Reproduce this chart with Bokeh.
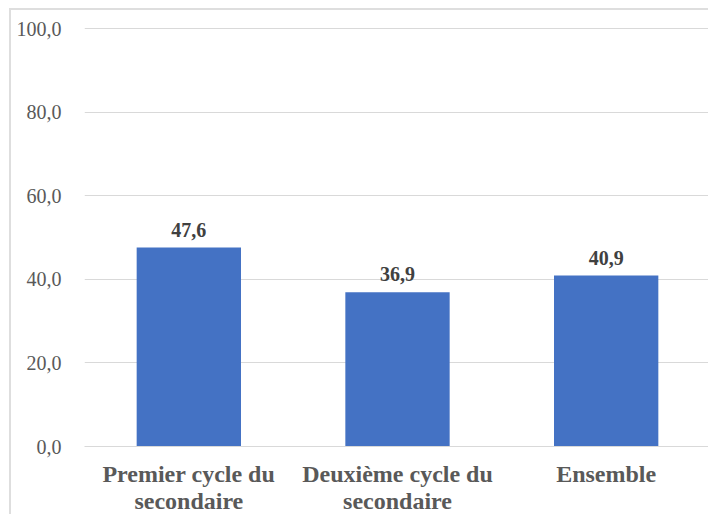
from bokeh.plotting import figure
from bokeh.models import ColumnDataSource, FactorRange, LabelSet, FixedTicker, Range1d
from bokeh.embed import file_html
from bokeh.resources import INLINE

categories = ["Premier cycle du\nsecondaire", "Deuxième cycle du\nsecondaire", "Ensemble"]
values = [47.6, 36.9, 40.9]
value_labels = ["47,6", "36,9", "40,9"]
y_ticks = [0, 20, 40, 60, 80, 100]
y_tick_labels = ["0,0", "20,0", "40,0", "60,0", "80,0", "100,0"]

FONT = "Liberation Serif"

source = ColumnDataSource(data=dict(cat=categories, val=values, lab=value_labels))

p = figure(
    x_range=FactorRange(*categories, range_padding=0),
    y_range=Range1d(0, 100.5),
    width=699, height=506,
    output_backend="svg", toolbar_location=None,
    min_border_left=73, min_border_right=0, min_border_top=16, min_border_bottom=70,
)
p.styles = {"margin-left": "9px", "margin-top": "8px",
            "border-top": "2px solid #dedede", "border-left": "2px solid #dedede"}
p.outline_line_color = None
p.background_fill_color = "white"
p.border_fill_color = "white"

p.vbar(x="cat", top="val", width=0.5, source=source, fill_color="#4472C4", line_color=None)

labels = LabelSet(x="cat", y="val", text="lab", source=source, text_align="center",
                  text_baseline="alphabetic", y_offset=11, text_font=FONT,
                  text_font_style="bold", text_font_size="20px", text_color="#404040")
p.add_layout(labels)

p.xgrid.grid_line_color = None
p.ygrid.grid_line_color = "#d9d9d9"
p.ygrid.grid_line_width = 1

p.yaxis.ticker = FixedTicker(ticks=y_ticks)
p.yaxis.major_label_overrides = {t: l for t, l in zip(y_ticks, y_tick_labels)}
p.yaxis.axis_line_color = None
p.yaxis.major_tick_line_color = None
p.yaxis.minor_tick_line_color = None
p.yaxis.major_label_text_font = FONT
p.yaxis.major_label_text_font_size = "20px"
p.yaxis.major_label_text_color = "#595959"
p.yaxis.major_label_standoff = 17

xa = p.xaxis[0]
xa.axis_line_color = "#d9d9d9"
xa.major_tick_line_color = None
xa.minor_tick_line_color = None
xa.major_tick_out = 0
xa.major_tick_in = 0
xa.major_label_text_font = FONT
xa.major_label_text_font_style = "bold"
xa.major_label_text_font_size = "24px"
xa.major_label_text_color = "#595959"
xa.major_label_text_line_height = 1.05
xa.major_label_standoff = 14

open("out.html", "w").write(file_html(p, INLINE))
